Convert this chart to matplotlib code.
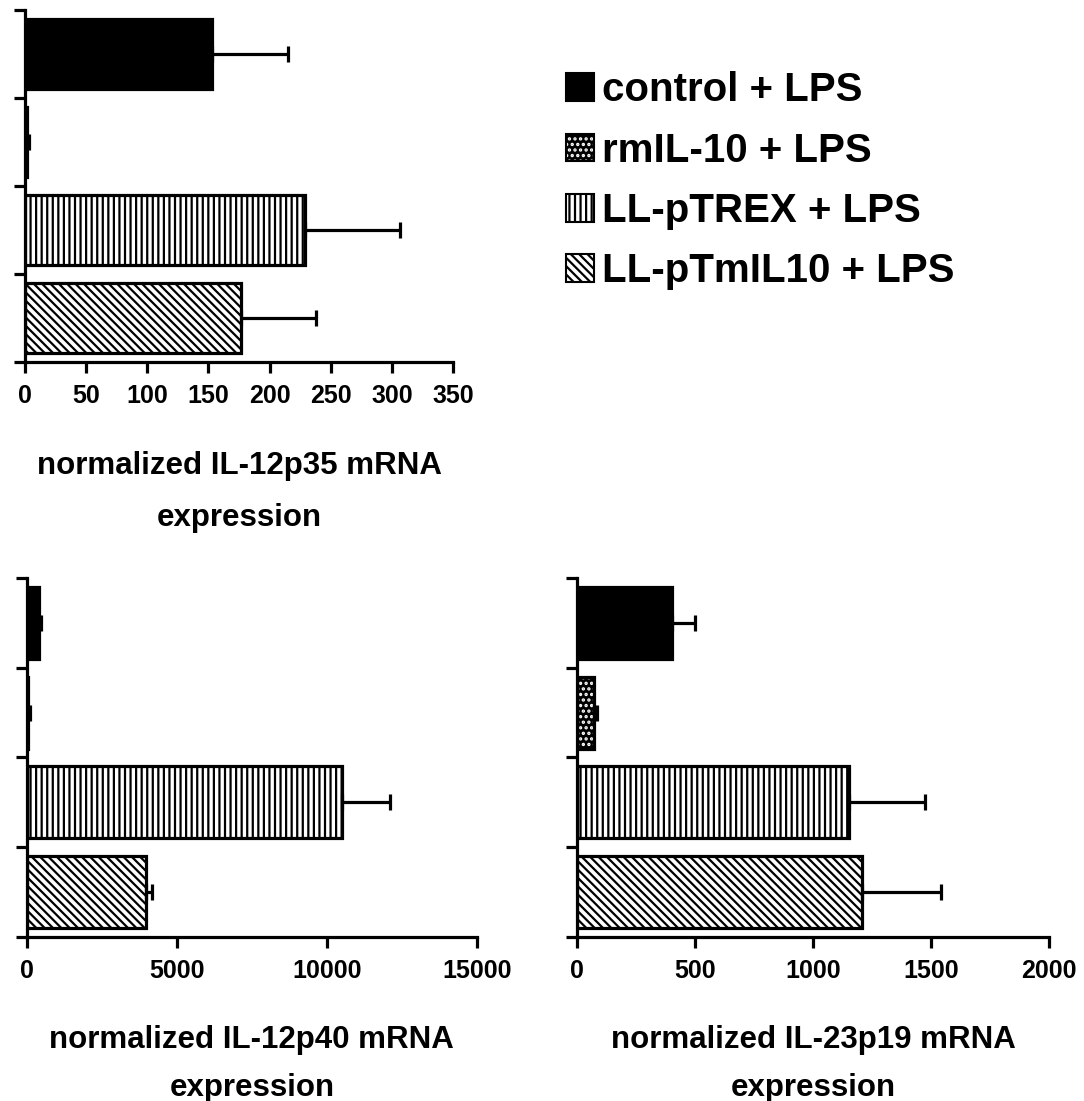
import matplotlib
matplotlib.use('Agg')
import matplotlib.pyplot as plt
from matplotlib.patches import Patch

plt.rcParams['font.family'] = ['Liberation Sans', 'DejaVu Sans']
plt.rcParams['font.weight'] = 'bold'
plt.rcParams['hatch.linewidth'] = 1.6

# groups (top to bottom)
groups = ['control + LPS', 'rmIL-10 + LPS', 'LL-pTREX + LPS', 'LL-pTmIL10 + LPS']

# IL-12p35
p35_mean = [153, 2, 229, 177]
p35_err = [62, 1, 78, 61]
p35_ticks = [0, 50, 100, 150, 200, 250, 300, 350]

# IL-12p40
p40_mean = [390, 30, 10490, 3960]
p40_err = [75, 70, 1600, 200]
p40_ticks = [0, 5000, 10000, 15000]

# IL-23p19
p19_mean = [405, 72, 1154, 1209]
p19_err = [95, 13, 322, 334]
p19_ticks = [0, 500, 1000, 1500, 2000]

# bar looks: (facecolor, hatch colour, hatch)
looks = [('black', 'black', ''), ('black', 'white', '...'),
         ('white', 'black', '|||'), ('white', 'black', '\\\\\\\\')]

LW = 2.3


def panel(rect, means, errs, ticks, label, lpad, lspace):
    ax = fig.add_axes(rect)
    ypos = list(range(len(means)))
    for i in ypos:
        fc, hc, h = looks[i]
        ax.barh(i, means[i], height=0.8, color=fc, edgecolor=hc, hatch=h, linewidth=0)
        ax.barh(i, means[i], height=0.8, fill=False, edgecolor='black', linewidth=LW)
    ax.errorbar(means, ypos, xerr=[[0] * len(means), errs], fmt='none', ecolor='black',
                elinewidth=LW, capsize=6, capthick=LW)
    ax.set_ylim(3.5, -0.5)
    ax.set_xlim(ticks[0], ticks[-1])
    ax.set_yticks([-0.5, 0.5, 1.5, 2.5, 3.5])
    ax.set_yticklabels([])
    ax.set_xticks(ticks)
    ax.set_xticklabels([str(t) for t in ticks])
    for s in ['top', 'right']:
        ax.spines[s].set_visible(False)
    for s in ['left', 'bottom']:
        ax.spines[s].set_linewidth(LW)
    ax.tick_params(direction='out', length=8, width=LW, labelsize=18, pad=8)
    ax.set_xlabel(label, fontsize=22.5, fontweight='bold', labelpad=lpad, linespacing=lspace)
    return ax


fig = plt.figure(figsize=(10.84, 11.01), dpi=100)

panel([0.0231, 0.6712, 0.3948, 0.3198], p35_mean, p35_err, p35_ticks,
      'normalized IL-12p35 mRNA\nexpression', 31, 1.95)
panel([0.0249, 0.149, 0.415, 0.326], p40_mean, p40_err, p40_ticks,
      'normalized IL-12p40 mRNA\nexpression', 30, 1.8)
panel([0.532, 0.149, 0.436, 0.326], p19_mean, p19_err, p19_ticks,
      'normalized IL-23p19 mRNA\nexpression', 30, 1.8)

handles = []
for fc, hc, h in looks:
    handles.append((Patch(facecolor=fc, edgecolor=hc, hatch=h, linewidth=0),
                    Patch(fill=False, edgecolor='black', linewidth=1.5)))
fig.legend(handles, groups, loc='upper left', bbox_to_anchor=(0.489, 0.968),
           frameon=False, prop={'size': 29, 'weight': 'bold'},
           handlelength=0.69, handleheight=0.69, handletextpad=0.2, labelspacing=0.55)

fig.savefig('out.png', dpi=100)
